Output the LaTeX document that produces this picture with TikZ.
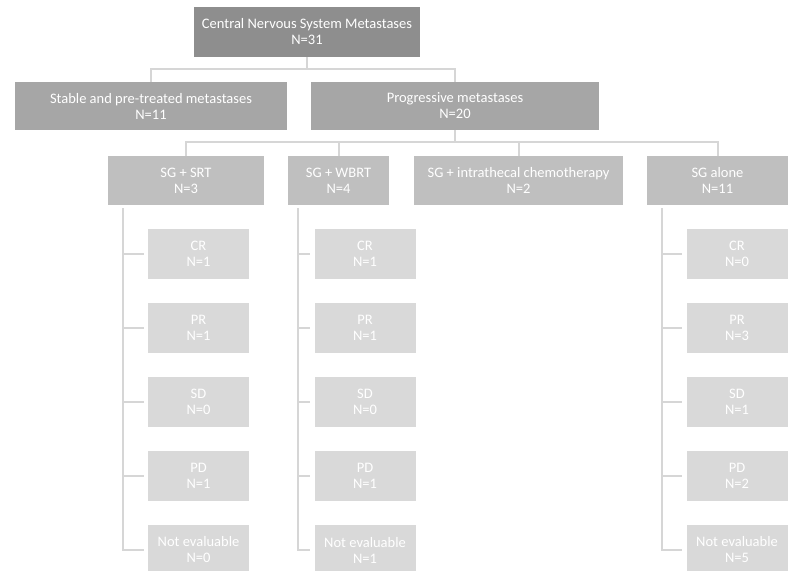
\documentclass[tikz,border=0pt]{standalone}
\usepackage{fontspec}
\setmainfont{Carlito}
\usetikzlibrary{calc,positioning}

\definecolor{grigioA}{HTML}{8E8E8E}
\definecolor{grigioB}{HTML}{A6A6A6}
\definecolor{grigioC}{HTML}{BFBFBF}
\definecolor{grigioD}{HTML}{D9D9D9}
\definecolor{linea}{HTML}{D6D6D6}

\tikzset{
  box/.style={rectangle, inner sep=0pt, align=center, text=white,
    font=\fontsize{14.5}{16}\selectfont},
  livelloA/.style={box, fill=grigioA, minimum width=226, minimum height=50},
  livelloB/.style={box, fill=grigioB, minimum height=48},
  livelloC/.style={box, fill=grigioC, minimum height=49},
  esito/.style={box, fill=grigioD, minimum width=101, minimum height=50},
  link/.style={draw=linea, line width=2pt},
}

\begin{document}
\begin{tikzpicture}[x=1pt, y=-1pt]
  \useasboundingbox (0,0) rectangle (789,570);

  % radice
  \node[livelloA] (CNS) at (307,32) {Central Nervous System Metastases\\N=31};

  % secondo livello
  \node[livelloB, minimum width=272] (Stable) at (151,106) {Stable and pre-treated metastases\\N=11};
  \node[livelloB, minimum width=288] (Prog) at (455,106) {Progressive metastases\\N=20};

  % terzo livello
  \node[livelloC, minimum width=156] (SRT) at (186,180.5) {SG + SRT\\N=3};
  \node[livelloC, minimum width=101] (WBRT) at (338.5,180.5) {SG + WBRT\\N=4};
  \node[livelloC, minimum width=209] (Intra) at (518.5,180.5) {SG + intrathecal chemotherapy\\N=2};
  \node[livelloC, minimum width=141] (Alone) at (717.5,180.5) {SG alone\\N=11};

  % collegamenti
  \draw[link] (CNS.south) -- ++(0,12) -| (Stable.north);
  \draw[link] (CNS.south) -- ++(0,12) -| (Prog.north);
  \foreach \dest in {SRT,WBRT,Intra,Alone}
    \draw[link] (Prog.south) -- ++(0,12) -| (\dest.north);

  % esiti
  \foreach \col/\x/\off/\a/\b/\c/\d/\e in {
      SRT/198.5/15/1/1/0/1/0,
      WBRT/365/10/1/1/0/1/1,
      Alone/737/15/0/3/1/2/5} {
    \node[esito] (\col CR) at (\x,254) {CR\\N=\a};
    \node[esito] (\col PR) at (\x,328) {PR\\N=\b};
    \node[esito] (\col SD) at (\x,402) {SD\\N=\c};
    \node[esito] (\col PD) at (\x,476) {PD\\N=\d};
    \node[esito] (\col NE) at (\x,550) {Not evaluable\\N=\e};
    \coordinate (\col T) at ($(\col.south west)+(\off,3)$);
    \foreach \r in {CR,PR,SD,PD,NE}
      \draw[link] (\col T) |- ($(\col\r.west)+(-4,0)$);
  }
\end{tikzpicture}
\end{document}
